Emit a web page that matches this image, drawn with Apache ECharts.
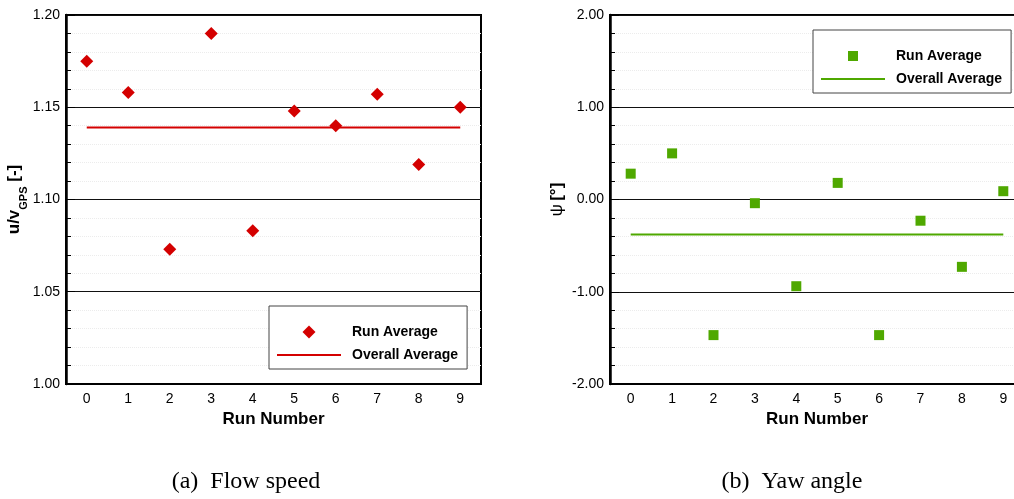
<!DOCTYPE html>
<html>
<head>
<meta charset="utf-8">
<script src="https://cdn.jsdelivr.net/npm/echarts@6/dist/echarts.min.js"></script>
<style>
  html, body { margin: 0; padding: 0; background: #fff; }
  .panel { position: absolute; top: 0; height: 499px; }
  #speed { left: 0; width: 540px; }
  #yaw { left: 540px; width: 474px; }
</style>
</head>
<body>
<div id="speed" class="panel"></div>
<div id="yaw" class="panel"></div>
<script>
// data
const runs = ['0', '1', '2', '3', '4', '5', '6', '7', '8', '9']
const speedRatio = [1.175, 1.158, 1.073, 1.190, 1.083, 1.148, 1.140, 1.157, 1.119, 1.150]
const speedOverall = 1.139
const yawAngle = [0.28, 0.50, -1.47, -0.04, -0.94, 0.18, -1.47, -0.23, -0.73, 0.09]
const yawOverall = -0.38

const SANS = '"Liberation Sans", Arial, sans-serif'
const RED = '#d40000'
const GREEN = '#4fa800'

// legend icons: marker sits in the middle of a 64px wide slot, like the line
const DIAMOND_ICON = 'path://M0,6.5L0,6.5M32,0L38.5,6.5L32,13L25.5,6.5ZM64,6.5L64,6.5'
const SQUARE_ICON = 'path://M0,5L0,5M27,0H37V10H27ZM64,5L64,5'
const LINE_ICON = 'path://M0,0H64V2H0Z'

const gridOf = (left, width) => ({
    left: left, top: 15, width: width, height: 369,
    outerBoundsMode: 'none',
    show: true, borderColor: '#000', borderWidth: 2
})

const xAxisOf = () => ({
    type: 'category',
    data: runs,
    boundaryGap: true,
    axisLine: { show: true, onZero: false, lineStyle: { color: '#000', width: 2 } },
    axisTick: { show: false },
    axisLabel: { color: '#000', fontSize: 14, fontFamily: SANS, margin: 8 },
    splitLine: { show: false },
    name: 'Run Number',
    nameLocation: 'middle',
    nameGap: 27,
    nameMoveOverlap: false,
    nameTextStyle: { color: '#000', fontSize: 17, fontWeight: 'bold', fontFamily: SANS }
})

const yAxisOf = (min, max, interval, name, nameGap, rich) => ({
    type: 'value',
    min: min,
    max: max,
    interval: interval,
    axisLine: { show: true, lineStyle: { color: '#000', width: 2.5 } },
    axisTick: { show: true, inside: true, length: 9, lineStyle: { color: '#000', width: 1 } },
    minorTick: { show: true, splitNumber: 5, length: 5, lineStyle: { color: '#000', width: 1 } },
    axisLabel: {
        color: '#000', fontSize: 14, fontFamily: SANS, margin: 6,
        formatter: v => v.toFixed(2)
    },
    splitLine: { show: true, lineStyle: { color: '#111', width: 1 } },
    minorSplitLine: { show: true, lineStyle: { color: '#ececec', width: 1, type: 'dotted' } },
    name: name,
    nameLocation: 'middle',
    nameGap: nameGap,
    nameMoveOverlap: false,
    nameTextStyle: { color: '#000', fontFamily: SANS, rich: rich }
})

const legendOf = (left, top, iconSize, markerIcon) => ({
    orient: 'vertical',
    left: left,
    top: top,
    itemWidth: 64,
    itemHeight: iconSize,
    itemGap: 9,
    padding: [19, 9, 7, 8],
    borderColor: '#444',
    borderWidth: 1,
    backgroundColor: '#fff',
    selectedMode: false,
    symbolKeepAspect: true,
    textStyle: { color: '#000', fontSize: 14, fontWeight: 'bold', fontFamily: SANS, padding: [0, 0, 0, 6] },
    data: [
        { name: 'Run Average', icon: markerIcon },
        { name: 'Overall Average', icon: LINE_ICON }
    ]
})

const captionOf = (x, text) => ({
    type: 'text',
    x: x,
    y: 482,
    style: {
        text: text,
        textAlign: 'center',
        textVerticalAlign: 'middle',
        font: '24px "Liberation Serif", "Times New Roman", serif',
        fill: '#000'
    }
})

const speedChart = echarts.init(document.getElementById('speed'))
speedChart.setOption({
    animation: false,
    grid: gridOf(66, 415),
    xAxis: xAxisOf(),
    yAxis: yAxisOf(1.0, 1.2, 0.05, '{b|u/v}{s|GPS}{b| [-]}', 42, {
        b: { fontSize: 17, fontWeight: 'bold', fontFamily: SANS, color: '#000', lineHeight: 20 },
        s: { fontSize: 11, fontWeight: 'bold', fontFamily: SANS, color: '#000', verticalAlign: 'bottom', lineHeight: 20, padding: [0, 0, -5, 0] }
    }),
    legend: legendOf(269, 306, 13, DIAMOND_ICON),
    series: [
        {
            name: 'Run Average',
            type: 'scatter',
            symbol: 'diamond',
            symbolSize: 13,
            itemStyle: { color: RED, opacity: 1 },
            data: speedRatio,
            z: 4
        },
        {
            name: 'Overall Average',
            type: 'line',
            symbol: 'none',
            lineStyle: { color: RED, width: 2 },
            itemStyle: { color: RED },
            data: [[runs[0], speedOverall], [runs[runs.length - 1], speedOverall]],
            z: 3
        }
    ],
    graphic: [captionOf(246, '(a)  Flow speed')]
})

const yawChart = echarts.init(document.getElementById('yaw'))
yawChart.setOption({
    animation: false,
    grid: gridOf(70, 414),
    xAxis: xAxisOf(),
    yAxis: yAxisOf(-2, 2, 1, '{n|\u03c8} {b|[°]}', 44, {
        n: { fontSize: 17, fontFamily: SANS, color: '#000' },
        b: { fontSize: 17, fontWeight: 'bold', fontFamily: SANS, color: '#000' }
    }),
    legend: legendOf(273, 30, 10, SQUARE_ICON),
    series: [
        {
            name: 'Run Average',
            type: 'scatter',
            symbol: 'rect',
            symbolSize: 10,
            itemStyle: { color: GREEN, opacity: 1 },
            data: yawAngle,
            z: 4
        },
        {
            name: 'Overall Average',
            type: 'line',
            symbol: 'none',
            lineStyle: { color: GREEN, width: 2 },
            itemStyle: { color: GREEN },
            data: [[runs[0], yawOverall], [runs[runs.length - 1], yawOverall]],
            z: 3
        }
    ],
    graphic: [captionOf(252, '(b)  Yaw angle')]
})
</script>
</body>
</html>
